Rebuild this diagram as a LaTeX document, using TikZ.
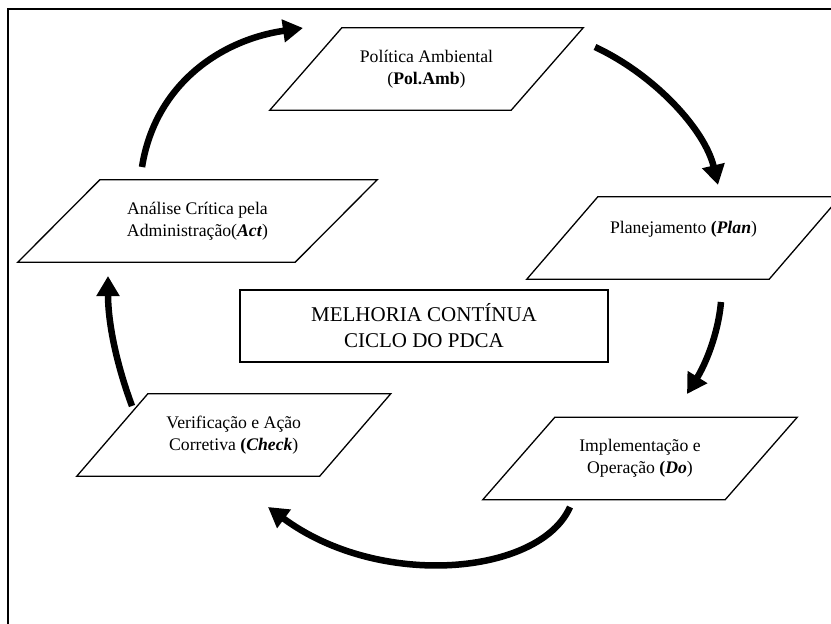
\documentclass[tikz,border=0pt]{standalone}
\usepackage{fontspec}
\setmainfont{Liberation Serif}
\usetikzlibrary{arrows.meta}

% parallelogram round a named node, top edge pushed right, bottom edge pushed left
\newcommand\slant[2]{\draw[shapeline] ([xshift=#2]#1.north west) -- ([xshift=#2]#1.north east)
  -- ([xshift=-#2]#1.south east) -- ([xshift=-#2]#1.south west) -- cycle;}

\begin{document}
\begin{tikzpicture}[x=1pt, y=-1pt,
        stage/.style={minimum width=#1, minimum height=82pt, inner sep=0pt, align=center,
            font=\fontsize{17.7}{22}\selectfont},
        shapeline/.style={line width=1.3pt, line join=miter},
        flow/.style={line width=6.5pt, -{Triangle[length=20pt,width=22pt]}}
    ]

    \clip (0,0) rectangle (831,624);
    \draw[line width=1.5pt] (8,9) rectangle (850,650);

    % stages of the cycle
    \node[stage=241pt] (pol) at (426.5,69) {Política Ambiental\\(\textbf{Pol.Amb})};
    \node[stage=242pt] (plan) at (683.5,238) {Planejamento \textbf{(\textit{Plan}})\\ ~};
    \node[stage=242pt] (do) at (640,458.5) {Implementação e\\Operação \textbf{(\textit{Do}})};
    \node[stage=242.5pt] (check) at (233.75,435) {Verificação e Ação\\Corretiva \textbf{(\textit{Check}})};
    \node[stage=277pt] (act) at (197.5,221) {Análise Crítica pela\\Administração(\textbf{\textit{Act}})};

    \slant{pol}{36pt}
    \slant{plan}{35.5pt}
    \slant{do}{36pt}
    \slant{check}{35.5pt}
    \slant{act}{41pt}

    \node[draw, line width=1.3pt, minimum width=368pt, minimum height=72pt, align=center,
        font=\fontsize{21}{26}\selectfont] (pdca) at (424,326) {MELHORIA CONTÍNUA\\CICLO DO PDCA};

    % arrow ends
    \coordinate (actout) at (142,167);
    \coordinate (polin) at (303,28);
    \coordinate (polout) at (595,47);
    \coordinate (planin) at (718,185);
    \coordinate (planout) at (721,302);
    \coordinate (doin) at (687,394);
    \coordinate (doout) at (570,507);
    \coordinate (checkin) at (268,507);
    \coordinate (checkout) at (132,406);
    \coordinate (actin) at (108,276);

    \draw[flow] (actout) .. controls (155,85) and (220,40) .. (polin);
    \draw[flow] (polout) .. controls (655,75) and (705,130) .. (planin);
    \draw[flow] (planout) .. controls (718,335) and (705,365) .. (doin);
    \draw[flow] (doout) .. controls (540,575) and (380,590) .. (checkin);
    \draw[flow] (checkout) .. controls (115,360) and (108,320) .. (actin);
\end{tikzpicture}
\end{document}
